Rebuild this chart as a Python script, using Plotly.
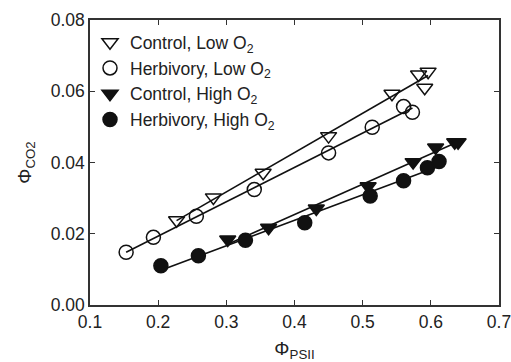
import numpy as np
import plotly.graph_objects as go

# Data
ctrl_low_x = [0.227, 0.281, 0.354, 0.450, 0.543, 0.582, 0.596, 0.591]
ctrl_low_y = [0.0238, 0.0302, 0.0371, 0.0474, 0.0593, 0.0647, 0.0655, 0.0610]

herb_low_x = [0.153, 0.193, 0.256, 0.341, 0.450, 0.514, 0.560, 0.573]
herb_low_y = [0.0148, 0.0190, 0.0249, 0.0324, 0.0427, 0.0499, 0.0557, 0.0541]

ctrl_high_x = [0.302, 0.362, 0.432, 0.508, 0.574, 0.607, 0.635, 0.640]
ctrl_high_y = [0.0184, 0.0217, 0.0271, 0.0333, 0.0401, 0.0442, 0.0457, 0.0457]

herb_high_x = [0.204, 0.259, 0.328, 0.415, 0.511, 0.560, 0.595, 0.612]
herb_high_y = [0.0110, 0.0138, 0.0182, 0.0231, 0.0306, 0.0349, 0.0385, 0.0403]

series = [
    ("Control, Low O<sub>2</sub>", ctrl_low_x, ctrl_low_y, "triangle-down-open"),
    ("Herbivory, Low O<sub>2</sub>", herb_low_x, herb_low_y, "circle-open"),
    ("Control, High O<sub>2</sub>", ctrl_high_x, ctrl_high_y, "triangle-down"),
    ("Herbivory, High O<sub>2</sub>", herb_high_x, herb_high_y, "circle"),
]

x_ticks = [0.1, 0.2, 0.3, 0.4, 0.5, 0.6, 0.7]
y_ticks = [0.00, 0.02, 0.04, 0.06, 0.08]

FONT = "Liberation Sans, Arial, sans-serif"
INK = "#222222"

fig = go.Figure()

# fitted lines
for name, xs, ys, sym in series:
    xs_a = np.array(xs)
    ys_a = np.array(ys)
    k, b = np.polyfit(xs_a, ys_a, 1)
    xl = np.array([xs_a.min(), xs_a.max()])
    fig.add_trace(go.Scatter(x=xl, y=k * xl + b, mode="lines",
                             line=dict(color="#111111", width=1.6),
                             showlegend=False, hoverinfo="skip"))

for name, xs, ys, sym in series:
    fig.add_trace(go.Scatter(
        x=xs, y=ys, mode="markers", name=name,
        marker=dict(symbol=sym, size=14, color="#111111",
                    line=dict(color="#111111", width=1.5)),
    ))

fig.update_layout(
    template="none",
    width=511, height=362,
    margin=dict(l=90, r=12, t=20, b=57),
    paper_bgcolor="white", plot_bgcolor="white",
    font=dict(family=FONT, size=17, color=INK),
    legend=dict(x=0.0, y=0.985, xanchor="left", yanchor="top",
                bgcolor="rgba(0,0,0,0)", font=dict(size=17.5, family=FONT, color=INK),
                itemwidth=30, tracegroupgap=0),
    showlegend=True,
)

axis_common = dict(showline=True, linecolor="#333333", linewidth=1.5,
                   mirror="ticks", ticks="inside", ticklen=5, tickwidth=1.3,
                   tickcolor="#333333", showgrid=False, zeroline=False,
                   automargin=False, ticklabeloverflow="allow",
                   tickfont=dict(size=17.5, family=FONT, color=INK))

fig.update_xaxes(range=[0.1, 0.7], tickvals=x_ticks,
                 ticktext=[f"{v:.1f}" for v in x_ticks],
                 title=dict(text="Φ<sub>PSII</sub>", standoff=13,
                            font=dict(size=19, family=FONT, color=INK)),
                 **axis_common)
fig.update_yaxes(range=[0.0, 0.08], tickvals=y_ticks,
                 ticktext=[f"{v:.2f}" for v in y_ticks],
                 title=dict(text="Φ<sub>CO2</sub>", standoff=14,
                            font=dict(size=19, family=FONT, color=INK)),
                 **axis_common)

fig.write_html("out.html",
               config={"displayModeBar": False},
               post_script="document.body.style.margin='0';document.body.style.overflow='hidden';")
